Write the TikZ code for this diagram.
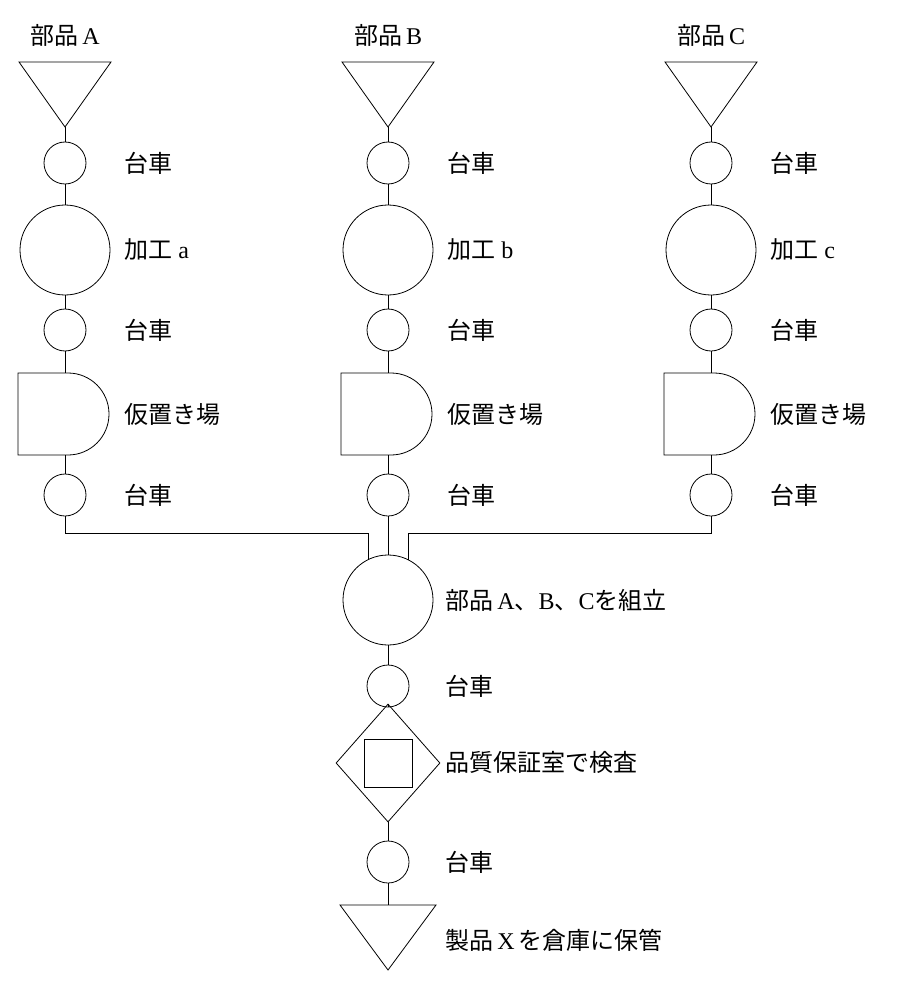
\documentclass[tikz,border=0pt]{standalone}
\usetikzlibrary{shapes.geometric}
\usepackage{fontspec}
\setmainfont{Noto Sans CJK JP}
\newfontfamily\lat{Liberation Serif}
\begin{document}
\begin{tikzpicture}[x=1pt,y=-1pt,line width=0.8pt,
  sm/.style={circle,draw,minimum size=42pt,inner sep=0pt},
  bg/.style={circle,draw,minimum size=90pt,inner sep=0pt},
  lbl/.style={anchor=west,font=\fontsize{24}{28}\selectfont,inner sep=0pt},
  ttl/.style={anchor=center,font=\fontsize{24}{28}\selectfont,inner sep=0pt}]
\useasboundingbox (0,0) rectangle (908,984);
\foreach \c/\x/\L/\l in {A/65/A/a,B/388/B/b,C/711/C/c}{
  \node[ttl] (t\c) at (\x,35) {部品{\lat\,\L}};
  \draw (\x-46,62) -- (\x+46,62) -- (\x,127) -- cycle;
  \coordinate (tri\c) at (\x,127);
  \node[sm] (s1\c) at (\x,163) {};
  \node[lbl] (l1\c) at (\x+59,163) {台車};
  \node[bg] (p\c) at (\x,250) {};
  \node[lbl] (lp\c) at (\x+59,250) {加工{\lat\ \l}};
  \node[sm] (s2\c) at (\x,330) {};
  \node[lbl] (l2\c) at (\x+59,330) {台車};
  \draw (\x+3,373) -- (\x-47,373) -- (\x-47,455) -- (\x+3,455) arc (90:-90:41);
  \coordinate (dt\c) at (\x,373);
  \coordinate (db\c) at (\x,455);
  \node[lbl] (ld\c) at (\x+59,414) {仮置き場};
  \node[sm] (s3\c) at (\x,495) {};
  \node[lbl] (l3\c) at (\x+59,495) {台車};
  \draw (tri\c) -- (s1\c) (s1\c) -- (p\c) (p\c) -- (s2\c) (s2\c) -- (dt\c) (db\c) -- (s3\c);
}
\node[bg] (asm) at (388,600) {};
\node[lbl] (lasm) at (445,600) {部品{\lat\,A}、{\lat B}、{\lat C}を組立};
\coordinate (jA) at (65,533); \coordinate (jA2) at (368,533); \coordinate (jA3) at (368,560);
\coordinate (jC) at (711,533); \coordinate (jC2) at (408,533); \coordinate (jC3) at (408,560);
\draw (s3A) -- (jA) -- (jA2) -- (jA3);
\draw (s3C) -- (jC) -- (jC2) -- (jC3);
\draw (s3B) -- (asm);
\node[sm] (s4) at (388,686) {};
\node[lbl] (l4) at (445,686) {台車};
\node[draw,diamond,minimum width=104pt,minimum height=118pt,inner sep=0pt] (dia) at (388,763) {};
\node[draw,minimum size=48pt,inner sep=0pt] (sq) at (388,763) {};
\node[lbl] (ldia) at (445,762) {品質保証室で検査};
\node[sm] (s5) at (388,862) {};
\node[lbl] (l5) at (445,862) {台車};
\draw (340,905) -- (436,905) -- (388,970) -- cycle;
\coordinate (tfin) at (388,905);
\node[lbl] (lfin) at (445,940) {製品{\lat\,X\,}を倉庫に保管};
\draw (asm) -- (s4) (s4) -- (dia) (dia) -- (s5) (s5) -- (tfin);
\end{tikzpicture}
\end{document}
